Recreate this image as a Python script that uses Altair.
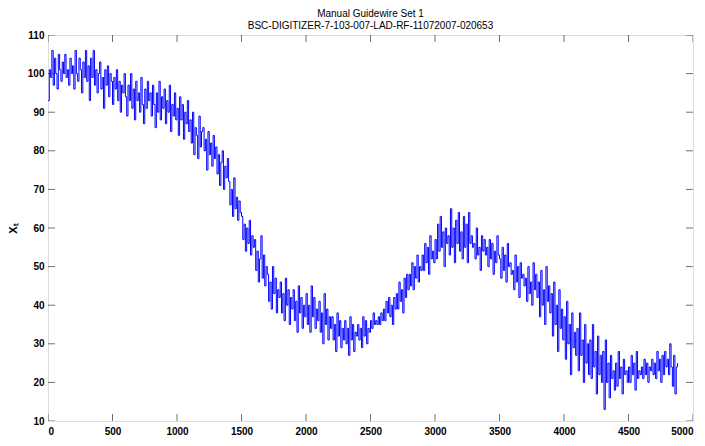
import altair as alt
import pandas as pd

# Signal, one value every 10 samples of t (t = 0 .. 4880)
x_t = [
    93, 101, 99, 106, 97, 104, 100, 96, 105, 101,
    98, 103, 100, 105, 99, 101, 97, 104, 100, 102,
    96, 106, 100, 98, 104, 101, 95, 103, 99, 106,
    98, 102, 93, 104, 99, 106, 97, 101, 95, 100,
    103, 96, 99, 91, 101, 97, 102, 94, 100, 98,
    92, 99, 96, 101, 93, 98, 90, 97, 95, 100,
    94, 89, 97, 93, 100, 91, 96, 88, 98, 93,
    95, 90, 99, 92, 87, 96, 91, 98, 93, 95,
    89, 97, 92, 86, 95, 90, 98, 88, 94, 91,
    96, 87, 93, 90, 97, 85, 92, 89, 95, 88,
    91, 84, 94, 88, 92, 83, 90, 87, 93, 85,
    88, 82, 90, 79, 86, 84, 78, 89, 81, 85,
    86, 80, 83, 75, 85, 79, 82, 76, 84, 78,
    81, 74, 79, 71, 77, 80, 70, 76, 73, 78,
    72, 66, 70, 63, 73, 65, 68, 62, 67, 64,
    63, 57, 61, 54, 60, 56, 62, 53, 58, 55,
    57, 49, 54, 46, 52, 58, 47, 53, 45, 50,
    48, 41, 46, 39, 50, 43, 47, 38, 44, 42,
    46, 38, 43, 36, 47, 40, 44, 35, 42, 39,
    44, 36, 41, 33, 45, 38, 42, 34, 40, 37,
    43, 35, 40, 33, 45, 37, 42, 34, 39, 36,
    41, 33, 38, 30, 43, 35, 39, 31, 37, 34,
    37, 31, 35, 28, 38, 32, 36, 29, 34, 31,
    36, 30, 34, 27, 37, 31, 35, 28, 33, 32,
    35, 31, 34, 29, 37, 32, 36, 30, 34, 33,
    36, 34, 38, 35, 36, 35, 37, 35, 38, 36,
    39, 36, 41, 38, 42, 37, 40, 35, 42, 39,
    43, 39, 46, 41, 44, 38, 47, 42, 48, 44,
    48, 45, 51, 44, 50, 47, 53, 46, 50, 49,
    53, 49, 56, 51, 55, 48, 58, 52, 54, 51,
    57, 52, 61, 54, 63, 55, 59, 50, 60, 56,
    58, 53, 65, 55, 60, 51, 62, 56, 64, 54,
    59, 52, 63, 55, 61, 51, 64, 56, 58, 55,
    56, 52, 60, 53, 55, 49, 58, 54, 57, 53,
    55, 50, 57, 52, 56, 48, 54, 51, 58, 53,
    52, 47, 55, 49, 53, 46, 56, 50, 51, 48,
    49, 44, 53, 46, 50, 42, 51, 47, 48, 45,
    47, 41, 50, 43, 46, 40, 51, 44, 48, 42,
    46, 37, 49, 40, 44, 35, 50, 41, 45, 38,
    43, 32, 46, 35, 40, 28, 44, 34, 39, 31,
    37, 26, 41, 30, 35, 22, 38, 29, 33, 27,
    34, 23, 38, 27, 31, 20, 35, 25, 30, 22,
    31, 21, 35, 24, 28, 17, 32, 22, 27, 20,
    28, 13, 31, 20, 25, 16, 27, 21, 23, 18,
    25, 19, 28, 21, 24, 17, 26, 22, 23, 20,
    24, 20, 27, 22, 25, 18, 28, 21, 23, 22,
    24, 21, 26, 22, 25, 20, 24, 23, 26, 22,
    25, 21, 28, 23, 26, 20, 27, 22, 28, 24,
    26, 22, 30, 24, 19, 27, 17, 24, 25,
]
t_step = 10
t_values = [i * t_step for i in range(len(x_t))]

x_ticks = [0, 500, 1000, 1500, 2000, 2500, 3000, 3500, 4000, 4500, 5000]
y_ticks = [10, 20, 30, 40, 50, 60, 70, 80, 90, 100, 110]

title_lines = ["Manual Guidewire Set 1", "BSC-DIGITIZER-7-103-007-LAD-RF-11072007-020653"]

df = pd.DataFrame({"t": t_values, "x": x_t})
xt = pd.DataFrame({"t": x_ticks})
yt = pd.DataFrame({"x": y_ticks})

FONT = "Liberation Sans, Arial, DejaVu Sans"

xscale = alt.Scale(domain=[0, 5000], nice=False, zero=False)
yscale = alt.Scale(domain=[10, 110], nice=False, zero=False)

xaxis = alt.Axis(values=x_ticks, tickCount=40, format="d", title="t", tickSize=0, domain=False,
                 grid=False, labelPadding=5, titlePadding=1, labelFontWeight="bold",
                 labelOverlap=False)
yaxis = alt.Axis(values=y_ticks, tickCount=40, format="d", title="Xₜ", tickSize=0, domain=False,
                 grid=False, labelPadding=4, titlePadding=9, labelFontWeight="bold",
                 labelOverlap=False)

X = alt.X("t:Q", scale=xscale, axis=xaxis, title="t")
Y = alt.Y("x:Q", scale=yscale, axis=yaxis, title="Xₜ")

line = alt.Chart(df).mark_line(color="#0000ff", strokeWidth=1, interpolate="step-after").encode(
    x=X, y=Y)

tick_color = "#333333"
xt_bottom = alt.Chart(xt).mark_tick(orient="vertical", size=14, thickness=1, clip=True,
                                    color=tick_color).encode(x=X, y=alt.datum(10))
xt_top = alt.Chart(xt).mark_tick(orient="vertical", size=14, thickness=1, clip=True,
                                 color=tick_color).encode(x=X, y=alt.datum(110))
yt_left = alt.Chart(yt).mark_tick(orient="horizontal", size=14, thickness=1, clip=True,
                                  color=tick_color).encode(y=Y, x=alt.datum(0))
yt_right = alt.Chart(yt).mark_tick(orient="horizontal", size=14, thickness=1, clip=True,
                                   color=tick_color).encode(y=Y, x=alt.datum(5000))

chart = alt.layer(line, xt_bottom, xt_top, yt_left, yt_right).properties(
    width=645,
    height=386,
    autosize=alt.AutoSizeParams(type="none"),
    padding={"left": 40, "top": 27, "right": 4, "bottom": 17},
    title=alt.Title(title_lines, font=FONT, fontSize=10, fontWeight="normal", color="black",
                    anchor="middle", lineHeight=12, offset=-1),
).configure_view(
    stroke="#404040", strokeWidth=1
).configure_axis(
    labelFont=FONT, labelFontSize=9.5, labelColor="black",
    titleFont=FONT, titleFontSize=10, titleFontWeight="normal", titleColor="black",
).configure(background="white")

chart.save("out.html", embed_options={"renderer": "svg", "actions": False})
